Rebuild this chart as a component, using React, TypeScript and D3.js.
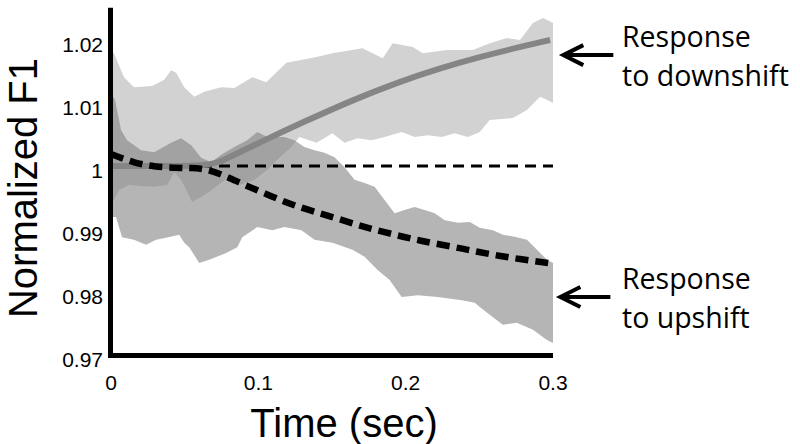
import React from 'react';
import * as d3 from 'd3';

// ---- data ----
const xTicks = [0, 0.1, 0.2, 0.3];
const xTickLabels = ['0', '0.1', '0.2', '0.3'];
const yTicks = [0.97, 0.98, 0.99, 1, 1.01, 1.02];
const yTickLabels = ['0.97', '0.98', '0.99', '1', '1.01', '1.02'];

// Response to downshift: band edges [time, value]
const downshiftUpper: [number, number][] = [
  [0, 1.0184], [0.002, 1.0179], [0.0088, 1.0141], [0.0156, 1.0125], [0.0279, 1.0127],
  [0.0361, 1.0137], [0.0408, 1.0152], [0.0442, 1.0148], [0.0497, 1.0125], [0.0565, 1.011],
  [0.0633, 1.0118], [0.0748, 1.0125], [0.0837, 1.0124], [0.0959, 1.0141], [0.1054, 1.0133],
  [0.119, 1.0164], [0.1395, 1.0173], [0.1503, 1.0179], [0.1707, 1.0187], [0.1844, 1.0171],
  [0.1912, 1.0195], [0.2048, 1.0189], [0.2116, 1.0179], [0.2279, 1.0184], [0.2456, 1.0184],
  [0.2571, 1.0195], [0.2687, 1.0203], [0.2776, 1.02], [0.2864, 1.0227], [0.2932, 1.0235],
  [0.3, 1.0227],
];
const downshiftLower: [number, number][] = [
  [0, 0.9938], [0.0054, 0.9962], [0.0122, 0.997], [0.0224, 0.9968], [0.0293, 0.9967],
  [0.0381, 0.997], [0.0429, 0.999], [0.0476, 0.9978], [0.0551, 0.9943], [0.0633, 0.9954],
  [0.0701, 0.9965], [0.0789, 0.9981], [0.0871, 0.997], [0.0973, 0.9978], [0.1061, 0.9994],
  [0.1143, 1.0013], [0.1224, 1.003], [0.1279, 1.0046], [0.1395, 1.0037], [0.1503, 1.0052],
  [0.1585, 1.0037], [0.1673, 1.0044], [0.1769, 1.0041], [0.1857, 1.0046], [0.1973, 1.0054],
  [0.2061, 1.0046], [0.215, 1.0049], [0.2245, 1.0046], [0.2333, 1.0052], [0.2422, 1.0046],
  [0.2503, 1.0054], [0.2571, 1.0073], [0.2728, 1.0076], [0.2823, 1.0089], [0.2912, 1.011],
  [0.2959, 1.0105], [0.3, 1.01],
];
// Response to upshift: band edges [time, value]
const upshiftUpper: [number, number][] = [
  [0, 1.0116], [0.0027, 1.0105], [0.0068, 1.0057], [0.0109, 1.0041], [0.0204, 1.0025],
  [0.0293, 1.0022], [0.0408, 1.0037], [0.0476, 1.0044], [0.0544, 1.0033], [0.0612, 1.0013],
  [0.068, 1.0006], [0.0748, 1.0018], [0.0837, 1.003], [0.0925, 1.0041], [0.0993, 1.0054],
  [0.1061, 1.0046], [0.1177, 1.0046], [0.1245, 1.0041], [0.1313, 1.003], [0.1381, 1.0025],
  [0.1449, 1.0021], [0.1517, 1.0014], [0.1585, 0.9998], [0.1653, 0.9978], [0.1721, 0.9973],
  [0.1789, 0.9967], [0.1857, 0.9946], [0.1925, 0.9925], [0.1993, 0.993], [0.2061, 0.9935],
  [0.2129, 0.993], [0.2197, 0.9925], [0.2265, 0.9914], [0.2354, 0.991], [0.2435, 0.9911],
  [0.2503, 0.9902], [0.2592, 0.9898], [0.266, 0.9891], [0.2755, 0.9887], [0.2823, 0.9883],
  [0.2891, 0.9867], [0.2959, 0.9851], [0.3, 0.9846],
];
const upshiftLower: [number, number][] = [
  [0, 0.9919], [0.0034, 0.9919], [0.0075, 0.9887], [0.0156, 0.9883], [0.0238, 0.9875],
  [0.0306, 0.9883], [0.0374, 0.9886], [0.0463, 0.9891], [0.0497, 0.9878], [0.0531, 0.9871],
  [0.0599, 0.9846], [0.0667, 0.9851], [0.0782, 0.9862], [0.0857, 0.9871], [0.0891, 0.9887],
  [0.0993, 0.9903], [0.1095, 0.9898], [0.1177, 0.9903], [0.1293, 0.9898], [0.1381, 0.9883],
  [0.1503, 0.9878], [0.1639, 0.9867], [0.1721, 0.9856], [0.181, 0.9835], [0.1891, 0.9819],
  [0.1973, 0.9792], [0.2082, 0.9795], [0.2218, 0.9792], [0.2381, 0.9787], [0.2469, 0.9783],
  [0.2503, 0.9776], [0.2592, 0.976], [0.266, 0.9748], [0.2755, 0.9751], [0.2864, 0.974],
  [0.2959, 0.9724], [0.3, 0.9719],
];
// mean responses
const downshiftMean: [number, number][] = [
  [0, 1.0], [0.03, 1.0], [0.0667, 1.0], [0.0769, 1.001], [0.1007, 1.0037], [0.1279, 1.0067],
  [0.1653, 1.0106], [0.1959, 1.0134], [0.2231, 1.0155], [0.2503, 1.0173],
  [0.2776, 1.0189], [0.298, 1.02],
];
const upshiftMean: [number, number][] = [
  [0, 1.0019], [0.0156, 1.0005], [0.0293, 0.9999], [0.0429, 0.9997], [0.0544, 0.9997],
  [0.0653, 0.9995], [0.0769, 0.9985], [0.0905, 0.997], [0.1088, 0.9952], [0.1245, 0.9937],
  [0.1429, 0.9924], [0.1585, 0.9913], [0.1721, 0.9903], [0.1857, 0.9895], [0.1993, 0.9887],
  [0.2109, 0.9881], [0.2245, 0.9875], [0.2381, 0.9869], [0.2483, 0.9864], [0.2619, 0.9858],
  [0.2755, 0.9853], [0.2898, 0.9848], [0.3, 0.9845],
];
const baselineValue = 1;
const annotations = [
  { value: 1.0176, lines: ['Response', 'to downshift'], tip: 0.307 },
  { value: 0.9792, lines: ['Response', 'to upshift'], tip: 0.305 },
];

export default function App() {
  const W = 800;
  const H = 444;
  const x = d3.scaleLinear().domain([0, 0.3]).range([111, 553]);
  const y = d3.scaleLinear().domain([0.97, 1.02]).range([355, 40]);
  const yTop = 1.0251;

  const lin = d3.line<[number, number]>().x((d) => x(d[0])).y((d) => y(d[1]));
  const smooth = d3
    .line<[number, number]>()
    .x((d) => x(d[0]))
    .y((d) => y(d[1]))
    .curve(d3.curveBasis);
  const band = (up: [number, number][], lo: [number, number][]) =>
    (lin([...up, ...lo.slice().reverse()]) || '') + 'Z';

  const tickFont = "'Liberation Sans', Arial, Helvetica, sans-serif";
  const annFont = "'Open Sans', 'Noto Sans', sans-serif";

  return (
    <svg
      width={W}
      height={H}
      viewBox={`0 0 ${W} ${H}`}
      style={{ position: 'absolute', left: 0, top: 0, background: '#fff' }}
    >
      <rect x={0} y={0} width={W} height={H} fill="#fff" />
      {/* bands */}
      <path d={band(downshiftUpper, downshiftLower)} fill="#d2d2d2" />
      <path d={band(upshiftUpper, upshiftLower)} fill="#7c7c7c" fillOpacity={0.57} />
      {/* baseline at 1 */}
      <line
        x1={x(0)}
        x2={x(0.3)}
        y1={y(baselineValue)}
        y2={y(baselineValue)}
        stroke="#000"
        strokeWidth={3}
        strokeDasharray="11 7"
      />
      {/* means */}
      <path d={smooth(downshiftMean) || ''} fill="none" stroke="#858585" strokeWidth={6} />
      <path
        d={smooth(upshiftMean) || ''}
        fill="none"
        stroke="#000"
        strokeWidth={6.5}
        strokeDasharray="13 7"
      />
      {/* axes */}
      <line x1={110.5} x2={110.5} y1={y(yTop)} y2={358} stroke="#000" strokeWidth={5} />
      <line x1={108} x2={x(0.3)} y1={355.5} y2={355.5} stroke="#000" strokeWidth={5} />
      {yTicks.map((t, i) => (
        <text
          key={'y' + i}
          x={103}
          y={y(t) + 12}
          textAnchor="end"
          fontFamily={tickFont}
          fontSize={21}
          fill="#000"
        >
          {yTickLabels[i]}
        </text>
      ))}
      {xTicks.map((t, i) => (
        <text
          key={'x' + i}
          x={x(t)}
          y={390}
          textAnchor="middle"
          fontFamily={tickFont}
          fontSize={21}
          fill="#000"
        >
          {xTickLabels[i]}
        </text>
      ))}
      <text x={344} y={437} textAnchor="middle" fontFamily={tickFont} fontSize={40} fill="#000">
        Time (sec)
      </text>
      <text
        transform="translate(37,188) rotate(-90)"
        textAnchor="middle"
        fontFamily={tickFont}
        fontSize={40}
        fill="#000"
      >
        Normalized F1
      </text>
      {/* annotations */}
      {annotations.map((a, i) => {
        const ay = y(a.value);
        const tipX = x(a.tip);
        const tailX = tipX + 50;
        return (
          <g key={'a' + i}>
            <path
              d={`M${tailX},${ay} L${tipX},${ay} M${tipX + 20},${ay - 10} L${tipX},${ay} L${tipX + 20},${ay + 10}`}
              fill="none"
              stroke="#000"
              strokeWidth={4}
            />
            <text x={622} y={ay - 8} fontFamily={annFont} fontSize={28.5} fill="#000">
              {a.lines[0]}
            </text>
            <text x={622} y={ay + 31} fontFamily={annFont} fontSize={28.5} fill="#000">
              {a.lines[1]}
            </text>
          </g>
        );
      })}
    </svg>
  );
}
